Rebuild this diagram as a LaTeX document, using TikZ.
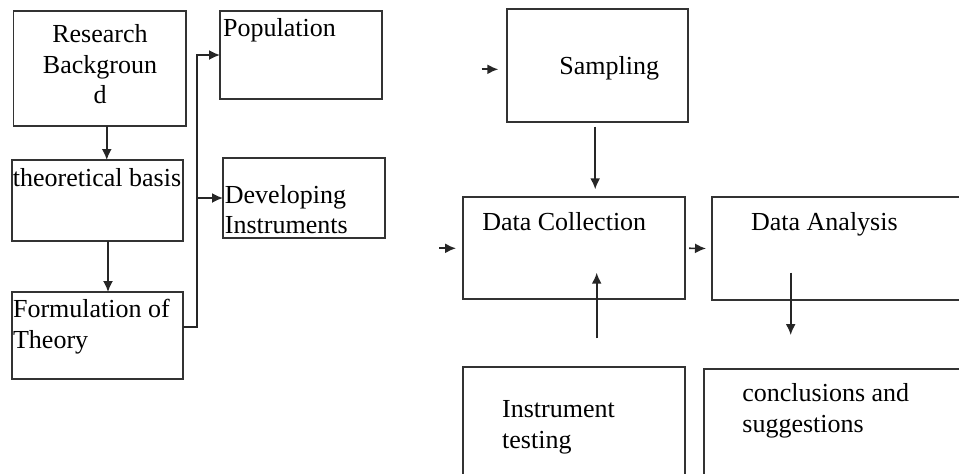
\documentclass[tikz,border=0pt]{standalone}
\usepackage{fontspec}
\setmainfont{Liberation Serif}
\usetikzlibrary{arrows.meta}
\tikzset{>={Latex[length=5.5pt,width=5pt]}}
\tikzstyle{box}=[draw=black!80,line width=0.9pt,outer sep=0pt,inner sep=0pt,anchor=north west]
\tikzstyle{txt}=[inner sep=0pt,font=\fontsize{13}{15.2}\selectfont,anchor=base west,align=left]
\tikzstyle{link}=[->,line width=0.85pt,black!85]

\begin{document}
\begin{tikzpicture}[x=0.5pt,y=-0.5pt]
  \useasboundingbox (0,0) rectangle (959,473);
  \clip (0,0) rectangle (959,473);
  % left column
  \node[box,minimum width=86.25pt,minimum height=57.5pt] (bg) at (13.5,11) {};
  \node[box,minimum width=85.5pt,minimum height=40.5pt] (basis) at (12,160) {};
  \node[box,minimum width=85.5pt,minimum height=43.5pt] (theory) at (12,292) {};
  \node[box,minimum width=81pt,minimum height=44pt] (pop) at (220,11) {};
  \node[box,minimum width=81pt,minimum height=40pt] (dev) at (223,158) {};
  % (base = last line of the text)
  \node[txt,anchor=base,align=center] (bgT) at ([shift={(86.5,92.5)}]bg.north west) {Research\\Backgroun\\d};
  \node[txt] (basisT) at ([shift={(0.5,26)}]basis.north west) {theoretical basis};
  \node[txt] (theoryT) at ([shift={(0.7,56)}]theory.north west) {Formulation of\\Theory};
  \node[txt] (popT) at ([shift={(2.7,25)}]pop.north west) {Population};
  \node[txt] (devT) at ([shift={(1.5,75.5)}]dev.north west) {Developing\\Instruments};
  % right part
  \node[box,minimum width=90.5pt,minimum height=56.5pt] (samp) at (506.7,9.3) {};
  \node[box,minimum width=111.3pt,minimum height=51pt] (coll) at (462.7,197.3) {};
  \node[box,minimum width=150pt,minimum height=51.5pt] (anal) at (711.8,197) {};
  \node[box,minimum width=111.3pt,minimum height=75pt] (inst) at (462.7,367.3) {};
  \node[box,minimum width=150pt,minimum height=75pt] (concl) at (704.3,369.3) {};
  \node[txt] (sampT) at ([shift={(52.3,64.7)}]samp.north west) {Sampling};
  \node[txt] (collT) at ([shift={(19.2,33.4)}]coll.north west) {Data Collection};
  \node[txt] (analT) at ([shift={(38.9,33.7)}]anal.north west) {Data Analysis};
  \node[txt] (instT) at ([shift={(39.1,81)}]inst.north west) {Instrument\\testing};
  \node[txt] (conclT) at ([shift={(37.7,63)}]concl.north west) {conclusions and\\suggestions};
  % arrows on the left
  \coordinate (a1) at ([xshift=3.5pt]bg.south);
  \draw[link] (a1) -- (a1 |- basis.north);
  \coordinate (a2) at ([xshift=5.25pt]basis.south);
  \draw[link] (a2) -- (a2 |- theory.north);
  \coordinate (tb) at ([yshift=4.25pt]theory.east);
  \coordinate (bus) at ([xshift=7pt]tb);
  \draw[link] (tb) -- (bus) |- (pop.west);
  \draw[link] (bus |- dev.west) -- (dev.west);
  % arrows on the right
  \draw[link] ([shift={(-25,3.5)}]samp.west) coordinate (sampIn) -- ++(16.6,0);
  \draw[link] ([shift={(-23.7,0)}]coll.west) coordinate (collIn) -- ++(17,0);
  \coordinate (s1) at ([shift={(-2,4.4)}]samp.south);
  \draw[link,shorten >=4pt] (s1) -- (s1 |- coll.north);
  \draw[link,shorten <=1.85pt,shorten >=2.9pt] (coll.east) -- (anal.west);
  \coordinate (u1) at ([shift={(22.7,-29)}]inst.north);
  \coordinate (u2) at ([shift={(22.7,-26.6)}]coll.south);
  \draw[link] (u1) -- (u2);
  \coordinate (d1) at ([shift={(78.9,-27.3)}]anal.south west);
  \coordinate (d2) at ([shift={(86.4,-34.3)}]concl.north west);
  \draw[link] (d1) -- (d2);
\end{tikzpicture}
\end{document}
